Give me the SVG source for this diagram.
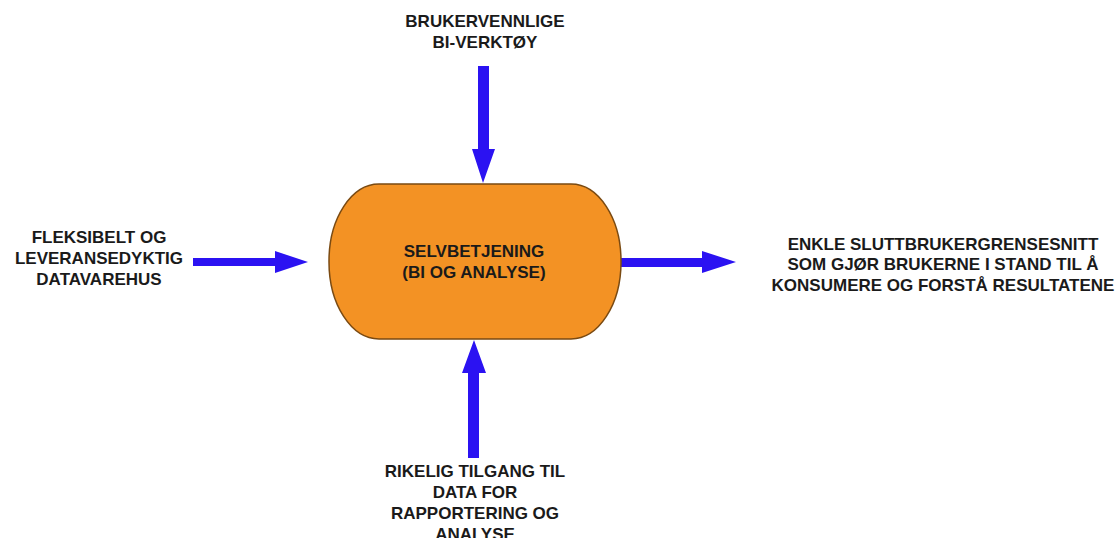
<svg xmlns="http://www.w3.org/2000/svg" width="1117" height="538" viewBox="0 0 1117 538">
  <style>
    text { font-family: "Liberation Sans", Arial, sans-serif; font-weight: bold; font-size: 17px; fill: #1a1a1a; text-anchor: middle; }
    .arrow { fill: #2B12F2; }
    .node { fill: #F39224; stroke: #7a4a12; stroke-width: 1.5; }
  </style>
  <rect width="1117" height="538" fill="#ffffff"/>
  <g id="connectors">
    <polygon class="arrow" points="193,258 275,258 275,251 308,262 275,273 275,266 193,266"/>
    <polygon class="arrow" points="621,258 702,258 702,251 736,262 702,273 702,267 621,267"/>
    <polygon class="arrow" points="478,66 489,66 489,149 495,149 483,183 472,149 478,149"/>
    <polygon class="arrow" points="468,458 479,458 479,373 486,373 474,340 462,373 468,373"/>
  </g>
  <g id="node-center">
    <rect class="node" x="329" y="184" width="292" height="155" rx="50" ry="77"/>
    <text x="474" y="257">SELVBETJENING</text>
    <text x="474" y="278">(BI OG ANALYSE)</text>
  </g>
  <g id="node-top">
    <text x="485" y="27">BRUKERVENNLIGE</text>
    <text x="485" y="48">BI-VERKTØY</text>
  </g>
  <g id="node-left">
    <text x="99" y="243">FLEKSIBELT OG</text>
    <text x="99" y="264">LEVERANSEDYKTIG</text>
    <text x="99" y="285">DATAVAREHUS</text>
  </g>
  <g id="node-right">
    <text x="943" y="250">ENKLE SLUTTBRUKERGRENSESNITT</text>
    <text x="943" y="270">SOM GJØR BRUKERNE I STAND TIL Å</text>
    <text x="943" y="291">KONSUMERE OG FORSTÅ RESULTATENE</text>
  </g>
  <g id="node-bottom">
    <text x="475" y="477">RIKELIG TILGANG TIL</text>
    <text x="475" y="498">DATA FOR</text>
    <text x="475" y="519">RAPPORTERING OG</text>
    <text x="475" y="540">ANALYSE</text>
  </g>
</svg>
